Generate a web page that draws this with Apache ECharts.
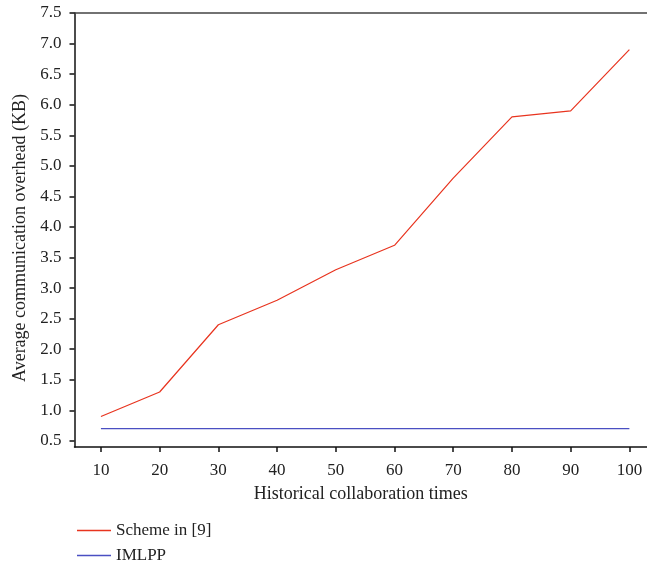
<!DOCTYPE html>
<html>
<head>
<meta charset="utf-8">
<script src="https://cdn.jsdelivr.net/npm/echarts@6/dist/echarts.min.js"></script>
<style>
  html, body { margin: 0; padding: 0; background: #fff; }
  #chart { width: 647px; height: 563px; }
</style>
</head>
<body>
<div id="chart"></div>
<script>
// Collaboration rounds on the x axis
const collaborationTimes = [10, 20, 30, 40, 50, 60, 70, 80, 90, 100];
// Average communication overhead (KB) per scheme
const schemeIn9 = [0.9, 1.3, 2.4, 2.8, 3.3, 3.7, 4.8, 5.8, 5.9, 6.9];
const imlpp = [0.7, 0.7, 0.7, 0.7, 0.7, 0.7, 0.7, 0.7, 0.7, 0.7];
// Tick labels
const yTicks = [0.5, 1.0, 1.5, 2.0, 2.5, 3.0, 3.5, 4.0, 4.5, 5.0, 5.5, 6.0, 6.5, 7.0, 7.5];
const xTicks = [10, 20, 30, 40, 50, 60, 70, 80, 90, 100];

const FONT = '"Liberation Serif", "DejaVu Serif", serif';
const TEXT = '#222';
const RED = '#e8341f';
const BLUE = '#4a4fc2';
const chart = echarts.init(document.getElementById('chart'));

const pairs = arr => collaborationTimes.map((x, i) => [x, arr[i]]);

const legendBase = {
  left: 72,
  itemWidth: 34,
  itemHeight: 1.5,
  icon: 'rect',
  textStyle: { fontFamily: FONT, fontSize: 17, color: TEXT, padding: [0, 0, 0, 0] }
};

chart.setOption({
  animation: false,
  backgroundColor: '#fff',
  textStyle: { fontFamily: FONT },
  grid: { left: 74.5, top: 13, right: 0, bottom: 116, containLabel: false, outerBoundsMode: 'none' },
  legend: [
    Object.assign({ top: 517, data: ['Scheme in [9]'] }, legendBase),
    Object.assign({ top: 542, data: ['IMLPP'] }, legendBase)
  ],
  xAxis: [{
    type: 'value',
    min: 5.5,
    max: 103,
    name: 'Historical collaboration times',
    nameLocation: 'middle',
    nameGap: 38,
    nameTextStyle: { fontFamily: FONT, fontSize: 18, color: TEXT },
    axisLine: { show: true, onZero: false, lineStyle: { color: '#111', width: 1.5 } },
    axisTick: { show: true, length: 5, customValues: xTicks, lineStyle: { color: '#111', width: 1.5 } },
    axisLabel: { customValues: xTicks, fontFamily: FONT, fontSize: 17, color: TEXT, margin: 15 },
    splitLine: { show: false }
  }, {
    type: 'value',
    position: 'top',
    min: 5.5,
    max: 103,
    axisLine: { show: true, onZero: false, lineStyle: { color: '#444', width: 1.5 } },
    axisTick: { show: false },
    axisLabel: { show: false },
    splitLine: { show: false }
  }],
  yAxis: {
    type: 'value',
    min: 0.4,
    max: 7.5,
    name: 'Average communication overhead (KB)',
    nameLocation: 'middle',
    nameGap: 42,
    nameTextStyle: { fontFamily: FONT, fontSize: 18, color: TEXT, padding: [0, 0, 0, -16] },
    axisLine: { show: true, onZero: false, lineStyle: { color: '#111', width: 1.5 } },
    axisTick: { show: true, length: 5, customValues: yTicks, lineStyle: { color: '#111', width: 1.5 } },
    axisLabel: {
      customValues: yTicks,
      fontFamily: FONT, fontSize: 17, color: TEXT, margin: 13,
      formatter: v => v.toFixed(1)
    },
    splitLine: { show: false }
  },
  series: [{
    name: 'Scheme in [9]',
    type: 'line',
    data: pairs(schemeIn9),
    symbol: 'none',
    lineStyle: { color: RED, width: 1.2 },
    itemStyle: { color: RED }
  }, {
    name: 'IMLPP',
    type: 'line',
    data: pairs(imlpp),
    symbol: 'none',
    lineStyle: { color: BLUE, width: 1.2 },
    itemStyle: { color: BLUE }
  }]
});
</script>
</body>
</html>
